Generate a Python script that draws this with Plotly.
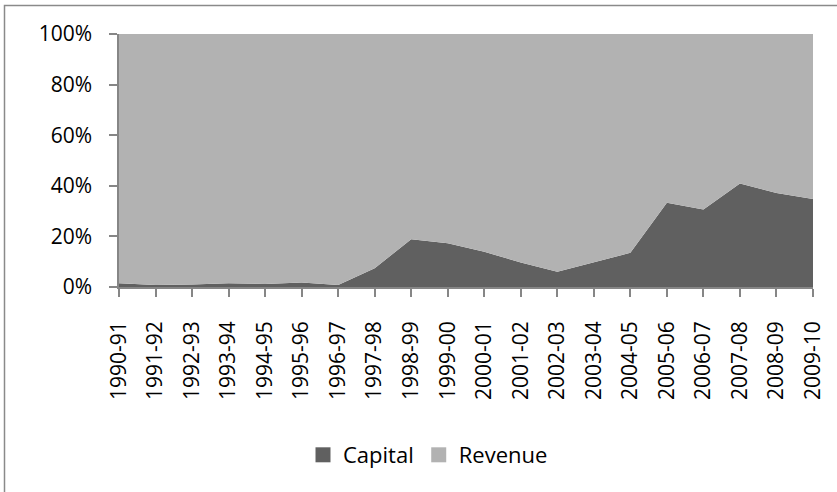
import plotly.graph_objects as go

years = ["1990-91", "1991-92", "1992-93", "1993-94", "1994-95", "1995-96", "1996-97",
         "1997-98", "1998-99", "1999-00", "2000-01", "2001-02", "2002-03", "2003-04",
         "2004-05", "2005-06", "2006-07", "2007-08", "2008-09", "2009-10"]
capital = [1.5, 0.8, 1.0, 1.5, 1.2, 1.8, 0.8, 7.4, 18.9, 17.3, 13.9, 9.7, 6.0, 9.7,
           13.5, 33.3, 30.6, 40.9, 37.2, 34.8]
revenue = [98.5, 99.2, 99.0, 98.5, 98.8, 98.2, 99.2, 92.6, 81.1, 82.7, 86.1, 90.3, 94.0, 90.3,
           86.5, 66.7, 69.4, 59.1, 62.8, 65.2]
series_names = ["Capital", "Revenue"]
series_colors = ["#606060", "#B2B2B2"]
y_ticks = [0, 20, 40, 60, 80, 100]
y_tick_labels = ["0%", "20%", "40%", "60%", "80%", "100%"]

FONT = "Open Sans"
AX = "#868686"

fig = go.Figure()
for name, vals, col in zip(series_names, [capital, revenue], series_colors):
    fig.add_trace(go.Scatter(
        x=years, y=vals, name=name, mode="lines", stackgroup="one",
        groupnorm="percent", line=dict(width=0, color=col), fillcolor=col,
        showlegend=False, hoverinfo="x+y+name"))
for name, col in zip(series_names, series_colors):
    fig.add_trace(go.Scatter(
        x=[None], y=[None], name=name, mode="markers",
        marker=dict(symbol="square", size=15, color=col), showlegend=True))

L, R, T, B = 119, 24, 34, 205
W, H = 837, 492
pw, ph = W - L - R, H - T - B

def px(x):
    return (x - L) / pw

def py(y):
    return (H - B - y) / ph

fig.update_layout(
    width=W, height=H,
    margin=dict(l=L, r=R, t=T, b=B, pad=0, autoexpand=False),
    paper_bgcolor="white", plot_bgcolor="white",
    font=dict(family=FONT, size=21, color="black"),
    showlegend=True,
    legend=dict(orientation="h", x=px(428), y=py(455), xanchor="center", yanchor="middle",
                font=dict(size=22), itemwidth=30, tracegroupgap=0, traceorder="normal",
                bgcolor="rgba(0,0,0,0)"),
    xaxis=dict(type="category", range=[0, len(years) - 1], showgrid=False, zeroline=False,
               showline=True, linecolor=AX, linewidth=1.5, ticks="outside", ticklen=8,
               tickcolor=AX, tickwidth=1.5, tickangle=-90, ticklabelstandoff=16,
               automargin=False, tickfont=dict(size=21)),
    yaxis=dict(range=[0, 100], tickmode="array", tickvals=y_ticks, ticktext=y_tick_labels,
               showgrid=False, zeroline=False, showline=True, linecolor=AX, linewidth=1.5,
               ticks="outside", ticklen=8, tickcolor=AX, tickwidth=1.5,
               ticklabelstandoff=13, automargin=False, tickfont=dict(size=21)),
    shapes=[dict(type="path", xref="paper", yref="paper",
                 path=f"M {px(4.5)},{py(495)} L {px(4.5)},{py(5.5)} L {px(840)},{py(5.5)}",
                 line=dict(color="#8A8A8A", width=1.5), layer="above")],
)

fig.write_html("out.html", config={"displayModeBar": False},
               post_script="document.body.style.margin='0';document.body.style.overflow='hidden';")
